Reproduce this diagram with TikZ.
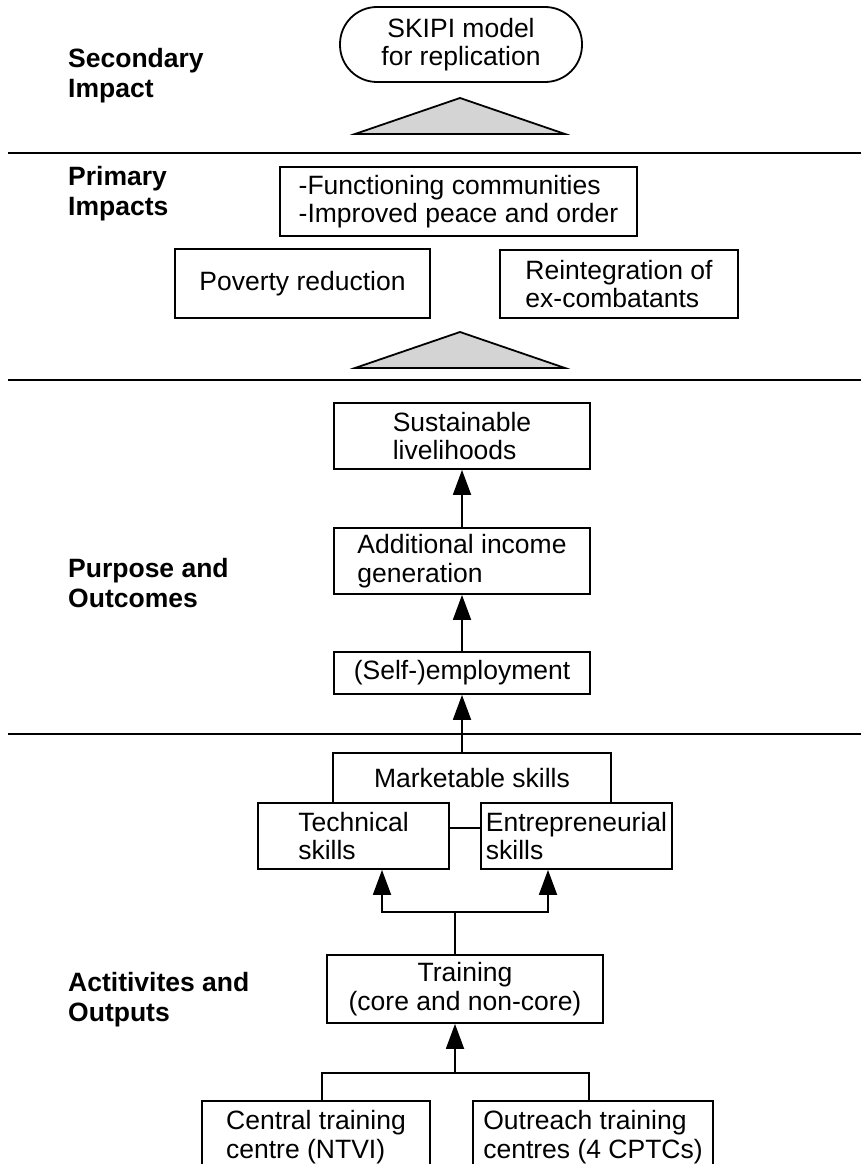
\documentclass[tikz,border=0pt]{standalone}
\usepackage{fontspec}
\setmainfont{Liberation Sans}
\usetikzlibrary{arrows.meta,positioning}

\begin{document}
\begin{tikzpicture}[x=1pt,y=-1pt,
  txt/.style={font=\fontsize{26.5}{28.5}\selectfont},
  box/.style={txt,draw,line width=1.8pt,rectangle,align=left,
    inner xsep=2pt,inner ysep=0pt},
  lbl/.style={font=\fontsize{26.5}{30}\selectfont\bfseries,align=left,
    inner sep=0pt,anchor=base west},
  rule/.style={line width=2pt},
  link/.style={line width=1.8pt},
  arr/.style={link,-{Triangle[length=25pt,width=18pt]}},
  wedge/.style={line width=1.8pt,fill=black!17,line join=miter}]
  % SKIPI logframe -- four levels, bottom to top
  \clip (0,0) rectangle (861,1164);
  % --- Level rules ---
  \foreach \yr in {153,380,734}
    \draw[rule] (8,\yr) -- (861,\yr);
  % --- Level labels (anchored at the last baseline) ---
  \node[lbl] (lsec) at (68,97)   {Secondary\\Impact};
  \node[lbl] (lpri) at (68,215)  {Primary\\Impacts};
  \node[lbl] (lpur) at (68,607)  {Purpose and\\Outcomes};
  \node[lbl] (lact) at (68,1021) {Actitivites and\\Outputs};
  % --- Secondary impact ---
  \node[box,align=center,rounded corners=37pt,minimum width=242pt,
    minimum height=75pt] (skipi) at (461,44.5) {SKIPI model\\for replication};
  \draw[wedge] (355,134) -- (460,98) -- (565,134) -- cycle;
  % --- Primary impacts ---
  \node[box,minimum width=357pt,minimum height=69pt] (prim) at (458.5,201.5)
    {-Functioning communities\\-Improved peace and order};
  \node[box,minimum width=255pt,minimum height=69pt] (pov) at (302.5,283.5)
    {Poverty reduction};
  \node[box,minimum width=238pt,minimum height=68pt] (reint) at (619,284)
    {Reintegration of\\ex-combatants};
  \draw[wedge] (355,368) -- (460,332) -- (565,368) -- cycle;
  % --- Purpose and outcomes ---
  \node[box,minimum width=256pt,minimum height=66pt] (sust) at (462,436)
    {Sustainable\\livelihoods};
  \node[box,minimum width=256pt,minimum height=66pt] (addinc) at (462,561)
    {Additional income\\generation};
  \node[box,minimum width=256pt,minimum height=42pt] (self) at (462,673)
    {(Self-)employment};
  \draw[arr] (addinc) -- (sust);
  \draw[arr] (self) -- (addinc);
  % --- Activities and outputs ---
  \node[box,draw=none,minimum width=276pt,minimum height=49pt] (mkt)
    at (472,778.5) {Marketable skills};
  \draw[link] (mkt.south west) -- (mkt.north west) -- (mkt.north east)
    -- (mkt.south east);
  \node[box,minimum width=191pt,minimum height=66pt] (tech) at (353.5,836)
    {Technical\\skills};
  \node[box,minimum width=191pt,minimum height=66pt] (entr) at (576.5,836)
    {Entrepreneurial\\skills};
  \draw[link] ([yshift=8pt]tech.east) -- ([yshift=8pt]entr.west);
  \draw[arr] (mkt.north -| self.south) -- (self.south);
  \node[box,align=center,minimum width=276pt,minimum height=68pt] (train)
    at (465,989) {Training\\(core and non-core)};
  \coordinate (split) at (455,912);
  \draw[link] (split |- train.north) -- (split);
  \draw[arr] (split) -| ([xshift=28.5pt]tech.south);
  \draw[arr] (split) -| ([xshift=-28.5pt]entr.south);
  \node[box,minimum width=228pt,minimum height=72pt] (cent) at (316,1137)
    {Central training\\centre (NTVI)};
  \node[box,minimum width=240pt,minimum height=72pt] (outr) at (593,1137)
    {Outreach training\\centres (4 CPTCs)};
  \coordinate (join) at (455,1073);
  \draw[link] ([xshift=6pt]cent.north) |- (join) -| ([xshift=-4pt]outr.north);
  \draw[arr] (join) -- (join |- train.south);
\end{tikzpicture}
\end{document}
